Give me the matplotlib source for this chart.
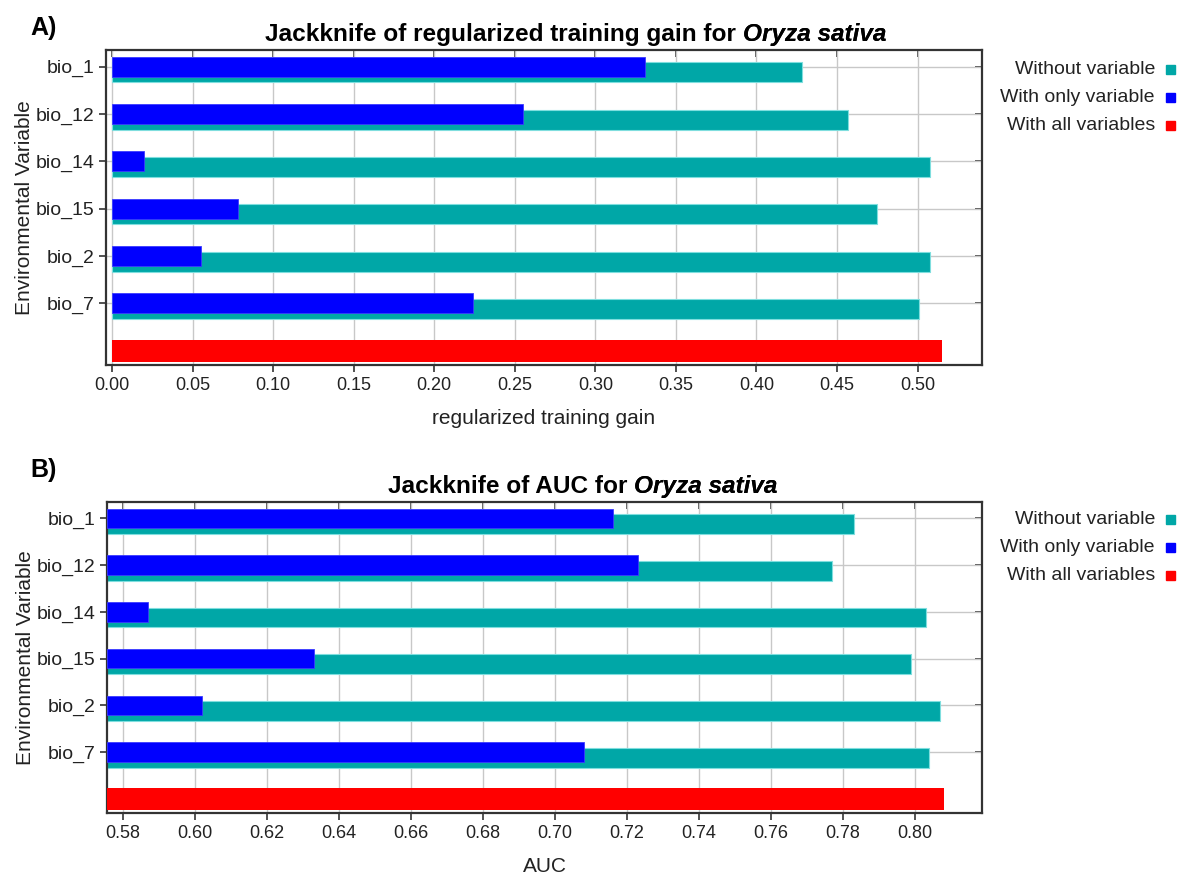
import numpy as np
import matplotlib
matplotlib.use("Agg")
import matplotlib.pyplot as plt
from matplotlib.patches import Rectangle

plt.rcParams["font.family"] = ["Liberation Sans", "DejaVu Sans"]

variables = ["bio_1", "bio_12", "bio_14", "bio_15", "bio_2", "bio_7"]

gain_without = [0.428, 0.457, 0.508, 0.475, 0.508, 0.501]
gain_only = [0.331, 0.255, 0.020, 0.078, 0.055, 0.224]
gain_all = 0.515
gain_ticks = [0.00, 0.05, 0.10, 0.15, 0.20, 0.25, 0.30, 0.35, 0.40, 0.45, 0.50]

auc_without = [0.783, 0.777, 0.803, 0.799, 0.807, 0.804]
auc_only = [0.716, 0.723, 0.587, 0.633, 0.602, 0.708]
auc_all = 0.808
auc_ticks = [0.58, 0.60, 0.62, 0.64, 0.66, 0.68, 0.70, 0.72, 0.74, 0.76, 0.78, 0.80]

legend_labels = ["Without variable", "With only variable", "With all variables"]
TEAL, BLUE, RED = "#00a7a7", "#0000ff", "#ff0000"
legend_colors = [TEAL, BLUE, RED]

W, H = 1182, 876
fig = plt.figure(figsize=(W / 100, H / 100), dpi=100)


def px_axes(x0, y0, x1, y1):
    return fig.add_axes([x0 / W, 1 - y1 / H, (x1 - x0) / W, (y1 - y0) / H])


def jackknife(ax, without, only, allv, ticks, xlim, xlabel):
    y = np.arange(len(variables))
    base = xlim[0] if xlim[0] > 0 else 0
    ax.barh(y + 0.12, np.array(without) - base, left=base, height=0.42,
            color=TEAL, edgecolor="#7fdede", linewidth=0.8, zorder=2)
    ax.barh(y, np.array(only) - base, left=base, height=0.42,
            color=BLUE, edgecolor="#3a3aff", linewidth=0.6, zorder=3)
    ax.barh([len(variables)], [allv - base], left=base, height=0.47,
            color=RED, zorder=3)
    ax.set_xlim(*xlim)
    ax.set_ylim(len(variables) + 0.3, -0.35)
    ax.set_xticks(ticks)
    ax.set_xticklabels([f"{t:.2f}" for t in ticks], fontsize=13)
    ax.set_yticks(y)
    ax.set_yticklabels(variables, fontsize=14)
    ax.grid(True, color="#c8c8c8", linewidth=1.0)
    ax.set_axisbelow(True)
    ax.tick_params(direction="out", length=5, width=1.2, colors="#333333",
                   labelcolor="#222222")
    for s in ax.spines.values():
        s.set_linewidth(1.6)
        s.set_color("#333333")
    top = ax.secondary_xaxis("top")
    top.set_xticks(ticks)
    top.tick_params(direction="in", length=5, width=1.2, labeltop=False,
                    colors="#333333")
    top.spines["top"].set_visible(False)
    right = ax.secondary_yaxis("right")
    right.set_yticks(y)
    right.tick_params(direction="in", length=5, width=1.2, labelright=False,
                      colors="#333333")
    right.spines["right"].set_visible(False)
    ax.set_xlabel(xlabel, fontsize=15, color="#222222", labelpad=11)
    ax.set_ylabel("Environmental Variable", fontsize=15, color="#222222")
    ax.yaxis.set_label_coords(-0.082, 0.5)


def title(x_px, y_px, text):
    t = fig.text(x_px / W, 1 - y_px / H, text, fontsize=17.6, weight="bold",
                 va="bottom", ha="left")
    fig.texts.append(plt.annotate("Oryza sativa", xy=(1, 0), xycoords=t,
                                  fontsize=17.6, weight="bold", style="italic",
                                  va="bottom", ha="left"))


def legend(y_px):
    for i, (lab, col) in enumerate(zip(legend_labels, legend_colors)):
        yy = y_px + i * 28
        fig.text(1155 / W, 1 - yy / H, lab, fontsize=14, ha="right",
                 va="center", color="#222222")
        fig.add_artist(Rectangle((1166 / W, 1 - (yy + 4) / H), 9 / W, 9 / H,
                                 color=col, transform=fig.transFigure))


axA = px_axes(106, 50, 982, 365)
jackknife(axA, gain_without, gain_only, gain_all, gain_ticks,
          (-0.0037, 0.540), "regularized training gain")
axB = px_axes(107, 502, 982, 813)
jackknife(axB, auc_without, auc_only, auc_all, auc_ticks,
          (0.5756, 0.8186), "AUC")

title(265, 46, "Jackknife of regularized training gain for ")
title(388, 498, "Jackknife of AUC for ")
legend(70)
legend(520)

fig.text(30 / W, 1 - 28 / H, "A)", fontsize=18, weight="bold",
         va="center", ha="left")
fig.text(30 / W, 1 - 470 / H, "B)", fontsize=18, weight="bold",
         va="center", ha="left")

fig.savefig("out.png", dpi=100, facecolor="white")
